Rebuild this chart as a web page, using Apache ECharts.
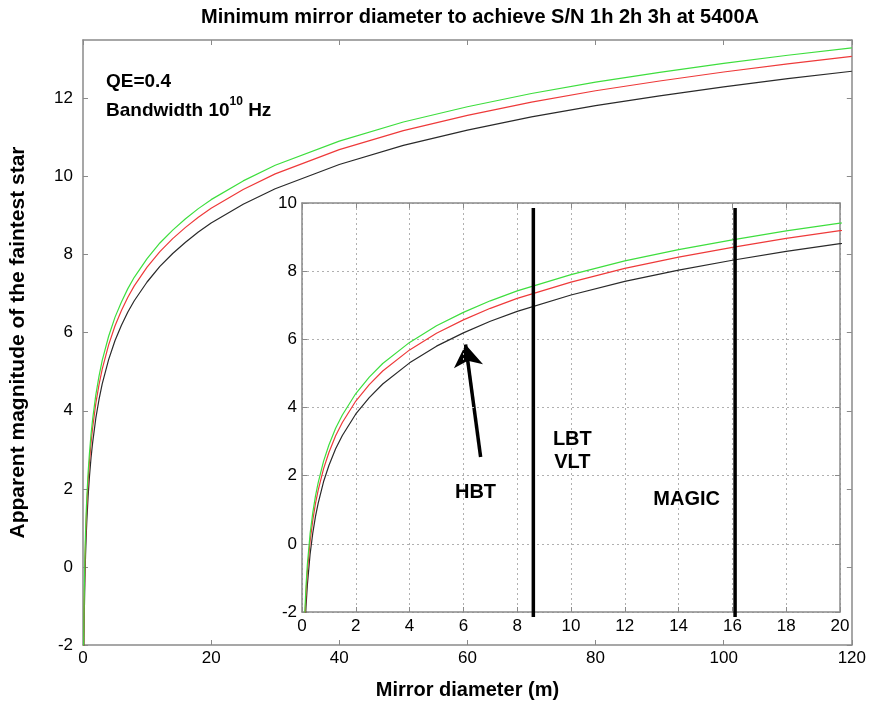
<!DOCTYPE html>
<html>
<head>
<meta charset="utf-8">
<script src="https://cdn.jsdelivr.net/npm/echarts@6/dist/echarts.min.js"></script>
<style>
  html, body { margin: 0; padding: 0; background: #fff; }
  #chart { width: 869px; height: 706px; }
</style>
</head>
<body>
<div id="chart"></div>
<script>
// Mirror diameter (m) sample points
const diameters = [0.1, 0.15, 0.2, 0.3, 0.4, 0.5, 0.6, 0.8, 1, 1.25, 1.5, 2, 2.5, 3, 4, 5, 6, 7, 8, 10,
  12, 14, 16, 18, 20, 25, 30, 40, 50, 60, 70, 80, 90, 100, 110, 120];
// Faintest reachable magnitude for 1h, 2h and 3h exposures
const mag1h = [-2.70, -1.82, -1.20, -0.31, 0.31, 0.80, 1.19, 1.82, 2.30, 2.79, 3.18, 3.81, 4.29, 4.69, 5.31, 5.80, 6.19, 6.53, 6.82, 7.30,
  7.70, 8.03, 8.32, 8.58, 8.81, 9.29, 9.69, 10.31, 10.80, 11.19, 11.53, 11.82, 12.07, 12.30, 12.51, 12.70];
const mag2h = [-2.32, -1.44, -0.82, 0.07, 0.69, 1.18, 1.57, 2.20, 2.68, 3.17, 3.56, 4.19, 4.67, 5.07, 5.69, 6.18, 6.57, 6.91, 7.20, 7.68,
  8.08, 8.41, 8.70, 8.96, 9.19, 9.67, 10.07, 10.69, 11.18, 11.57, 11.91, 12.20, 12.45, 12.68, 12.89, 13.08];
const mag3h = [-2.10, -1.22, -0.60, 0.29, 0.91, 1.40, 1.79, 2.42, 2.90, 3.39, 3.78, 4.41, 4.89, 5.29, 5.91, 6.40, 6.79, 7.13, 7.42, 7.90,
  8.30, 8.63, 8.92, 9.18, 9.41, 9.89, 10.29, 10.91, 11.40, 11.79, 12.13, 12.42, 12.67, 12.90, 13.11, 13.30];

// Telescope reference diameters drawn in the zoomed panel
const telescopeLines = [
  { name: 'LBT/VLT', x: 8.6 },
  { name: 'MAGIC', x: 16.1 }
];
const telescopeLineSpan = [-2.15, 9.85];
// HBT arrow: tail and head in data units
const hbtArrow = [[6.64, 2.55], [6.08, 5.85]];
// Panel annotations (data units)
const notes = [
  { text: 'HBT', x: 6.45, y: 1.5 },
  { text: 'LBT', x: 10.05, y: 3.05 },
  { text: 'VLT', x: 10.05, y: 2.4 },
  { text: 'MAGIC', x: 14.3, y: 1.3 }
];

const mainXTicks = { min: 0, max: 120, interval: 20 };
const mainYTicks = { min: -2, max: 13.5, interval: 2 };
const insetXTicks = { min: 0, max: 20, interval: 2 };
const insetYTicks = { min: -2, max: 10, interval: 2 };

const FONT = 'Liberation Sans, Arial, sans-serif';
const AXIS_GRAY = '#8a8a8a';
const INK = '#000';
const COLORS = { h1: '#2a2a2a', h2: '#ee3a3a', h3: '#3ede3e' };
const TICK_FONT = 17;

const pairs = arr => diameters.map((d, i) => [d, arr[i]]);

function axisBase(extra) {
  return Object.assign({
    type: 'value',
    axisLine: { show: true, onZero: false, lineStyle: { color: AXIS_GRAY, width: 1.5 } },
    axisTick: { show: true, inside: true, length: 5, lineStyle: { color: AXIS_GRAY } },
    splitLine: { show: false },
    axisLabel: { color: INK, fontFamily: FONT, fontSize: TICK_FONT }
  }, extra);
}

const mirrorAxis = extra => Object.assign(axisBase(extra), { axisLabel: { show: false } });

const chart = echarts.init(document.getElementById('chart'), null, { renderer: 'canvas' });

const gridMain = { left: 82, right: 16, top: 40, bottom: 61 };
const gridInset = { left: 302, right: 29, top: 203, bottom: 94, show: true, backgroundColor: '#fff', borderWidth: 0, z: 5 };

const insetSplit = { show: true, lineStyle: { color: '#b0b0b0', type: [2, 3], width: 1 } };

const option = {
  animation: false,
  backgroundColor: '#fff',
  title: {
    text: 'Minimum mirror diameter to achieve S/N 1h 2h 3h at 5400A',
    left: 475, top: 2, textAlign: 'center',
    textStyle: { fontFamily: FONT, fontSize: 20, fontWeight: 'bold', color: INK }
  },
  grid: [gridMain, gridInset],
  xAxis: [
    axisBase(Object.assign({ gridIndex: 0, position: 'bottom',
      name: 'Mirror diameter (m)', nameLocation: 'middle', nameGap: 35,
      nameTextStyle: { fontFamily: FONT, fontSize: 20, fontWeight: 'bold', color: INK },
      axisLabel: { color: INK, fontFamily: FONT, fontSize: TICK_FONT, margin: 5 }
    }, mainXTicks)),
    mirrorAxis(Object.assign({ gridIndex: 0, position: 'top' }, mainXTicks)),
    axisBase(Object.assign({ gridIndex: 1, position: 'bottom', z: 6, splitLine: insetSplit,
      axisLabel: { color: INK, fontFamily: FONT, fontSize: TICK_FONT, margin: 6 }
    }, insetXTicks)),
    mirrorAxis(Object.assign({ gridIndex: 1, position: 'top', z: 6 }, insetXTicks))
  ],
  yAxis: [
    axisBase(Object.assign({ gridIndex: 0, position: 'left',
      name: 'Apparent magnitude of the faintest star', nameLocation: 'middle', nameGap: 54,
      nameTextStyle: { fontFamily: FONT, fontSize: 21, fontWeight: 'bold', color: INK },
      axisLabel: { color: INK, fontFamily: FONT, fontSize: TICK_FONT, margin: 10, showMaxLabel: false }
    }, mainYTicks)),
    mirrorAxis(Object.assign({ gridIndex: 0, position: 'right' }, mainYTicks)),
    axisBase(Object.assign({ gridIndex: 1, position: 'left', z: 6, splitLine: insetSplit,
      axisLabel: { color: INK, fontFamily: FONT, fontSize: TICK_FONT, margin: 5 }
    }, insetYTicks)),
    mirrorAxis(Object.assign({ gridIndex: 1, position: 'right', z: 6 }, insetYTicks))
  ],
  graphic: [{
    type: 'text', left: 106, top: 72, z: 10,
    style: {
      text: '{b|QE=0.4}\n{b|Bandwidth 10}{sup|10}{b| Hz}',
      rich: {
        b: { fontFamily: FONT, fontSize: 19, fontWeight: 'bold', fill: INK, lineHeight: 29 },
        sup: { fontFamily: FONT, fontSize: 12, fontWeight: 'bold', fill: INK, verticalAlign: 'top', padding: [0, 0, 10, 0], lineHeight: 29 }
      }
    }
  }],
  series: []
};

const curveSets = [
  ['1h', mag1h, COLORS.h1],
  ['2h', mag2h, COLORS.h2],
  ['3h', mag3h, COLORS.h3]
];

[0, 1].forEach(g => {
  curveSets.forEach(([name, arr, color]) => {
    option.series.push({
      type: 'line', name: name, xAxisIndex: g * 2, yAxisIndex: g * 2,
      data: pairs(arr), showSymbol: false, symbol: 'none', clip: true,
      lineStyle: { color: color, width: 1.2 }, z: g === 0 ? 2 : 7
    });
  });
});

// Telescope diameter markers
telescopeLines.forEach(t => {
  option.series.push({
    type: 'line', name: t.name, xAxisIndex: 2, yAxisIndex: 2,
    data: telescopeLineSpan.map(v => [t.x, v]),
    showSymbol: false, symbol: 'none', clip: false,
    lineStyle: { color: '#000', width: 3.5 }, z: 8
  });
});

// HBT arrow
option.series.push({
  type: 'line', name: 'HBT arrow', xAxisIndex: 2, yAxisIndex: 2,
  data: [], z: 8,
  markLine: {
    silent: true, symbol: ['none', 'arrow'], symbolSize: 22,
    lineStyle: { color: '#000', width: 3.5, type: 'solid' },
    label: { show: false },
    data: [[{ coord: hbtArrow[0] }, { coord: hbtArrow[1] }]]
  }
});

// Text annotations
option.series.push({
  type: 'scatter', name: 'notes', xAxisIndex: 2, yAxisIndex: 2,
  symbolSize: 0, z: 9,
  data: notes.map(n => ({ value: [n.x, n.y], name: n.text })),
  label: {
    show: true, position: 'inside', formatter: p => p.name,
    fontFamily: FONT, fontSize: 20, fontWeight: 'bold', color: INK,
    textBorderWidth: 0, opacity: 1
  }
});

chart.setOption(option);
</script>
</body>
</html>
